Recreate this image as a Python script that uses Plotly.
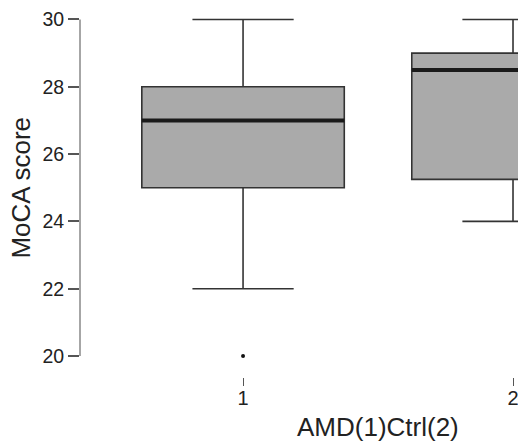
import plotly.graph_objects as go

# Data
groups = [1, 2]
group_labels = ["1", "2"]
q1 = [25.0, 25.25]
median = [27.0, 28.5]
q3 = [28.0, 29.0]
lower_whisker = [22.0, 24.0]
upper_whisker = [30.0, 30.0]
outlier_x = [1]
outlier_y = [20.0]
y_ticks = [20, 22, 24, 26, 28, 30]

box_width = 0.75
font_family = "Liberation Sans, Arial, sans-serif"

fig = go.Figure()
fig.add_trace(go.Box(
    x=groups, q1=q1, median=median, q3=q3,
    lowerfence=lower_whisker, upperfence=upper_whisker,
    width=box_width, whiskerwidth=0.5,
    fillcolor="#aaaaaa", line=dict(color="#333333", width=1.6),
    boxpoints=False, showlegend=False, hoverinfo="skip",
))

# thick median bars
for xi, m in zip(groups, median):
    fig.add_trace(go.Scatter(
        x=[xi - box_width / 2, xi + box_width / 2], y=[m, m],
        mode="lines", line=dict(color="#1a1a1a", width=4),
        showlegend=False, hoverinfo="skip",
    ))

fig.add_trace(go.Scatter(
    x=outlier_x, y=outlier_y, mode="markers",
    marker=dict(color="#111111", size=4), cliponaxis=False,
    showlegend=False, hoverinfo="skip",
))

# R-style y axis line spanning only the tick range
fig.add_shape(type="line", xref="paper", x0=0, x1=0, yref="y",
              y0=min(y_ticks), y1=max(y_ticks),
              line=dict(color="#888888", width=1.5))

fig.add_annotation(text="AMD(1)Ctrl(2)", xref="x", x=1.5, yref="paper", y=-0.1346,
                   yanchor="middle", xanchor="center", showarrow=False,
                   font=dict(size=26, color="#222222", family=font_family))

fig.update_layout(
    width=518, height=442,
    margin=dict(l=80, r=0, t=5.5, b=65, autoexpand=False),
    paper_bgcolor="white", plot_bgcolor="white",
    font=dict(family=font_family, color="#222222"),
    xaxis=dict(range=[0.396, 2.0185], tickvals=groups, ticktext=group_labels,
               ticks="outside", ticklen=8, tickcolor="#555555", tickwidth=1,
               showline=False, showgrid=False, zeroline=False,
               anchor="free", position=0, ticklabelstandoff=-5,
               ticklabeloverflow="allow",
               tickfont=dict(size=20, color="#222222")),
    yaxis=dict(domain=[0.0202, 1], range=[19.6, 30.4], tickvals=y_ticks,
               ticks="outside", ticklen=11, tickcolor="#555555", tickwidth=1.5,
               showline=False, showgrid=False, zeroline=False,
               ticklabeloverflow="allow",
               tickfont=dict(size=19.5, color="#222222"),
               title=dict(text="MoCA score", standoff=4,
                          font=dict(size=26, color="#222222"))),
)

fig.write_html(
    "out.html",
    config={"displayModeBar": False},
    post_script="document.body.style.margin='0';document.body.style.overflow='hidden';",
)
